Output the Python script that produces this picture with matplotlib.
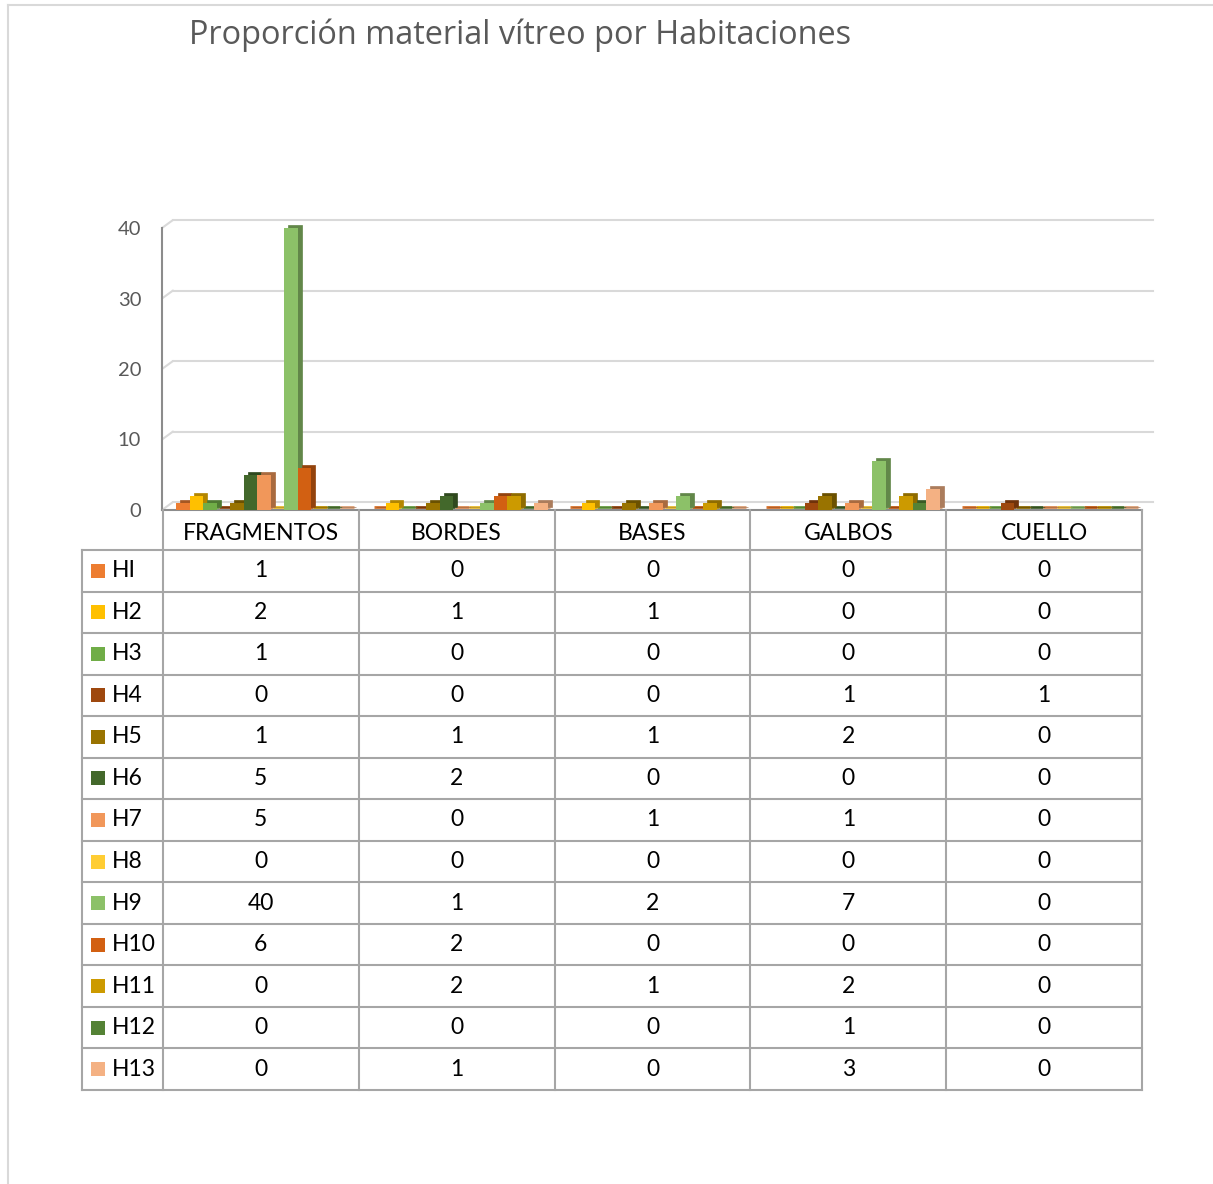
import numpy as np
import matplotlib
matplotlib.use("Agg")
import matplotlib.pyplot as plt
import matplotlib.transforms as mtransforms
from matplotlib.patches import Rectangle, ConnectionPatch
from matplotlib.lines import Line2D

categories = ["FRAGMENTOS", "BORDES", "BASES", "GALBOS", "CUELLO"]
series_names = ["HI", "H2", "H3", "H4", "H5", "H6", "H7", "H8", "H9", "H10", "H11", "H12", "H13"]
values = [
    [1, 0, 0, 0, 0],
    [2, 1, 1, 0, 0],
    [1, 0, 0, 0, 0],
    [0, 0, 0, 1, 1],
    [1, 1, 1, 2, 0],
    [5, 2, 0, 0, 0],
    [5, 0, 1, 1, 0],
    [0, 0, 0, 0, 0],
    [40, 1, 2, 7, 0],
    [6, 2, 0, 0, 0],
    [0, 2, 1, 2, 0],
    [0, 0, 0, 1, 0],
    [0, 1, 0, 3, 0],
]
colors = ["#ED7D31", "#FFC000", "#70AD47", "#9E480E", "#997300", "#43682B", "#F1975A",
          "#FFCD33", "#8CC168", "#D26012", "#CC9A00", "#548235", "#F4B183"]
yticks = [0, 10, 20, 30, 40]

FONT = "Lato"
W, H = 1213, 1184
fig = plt.figure(figsize=(W / 100, H / 100), dpi=100)


def fx(px):
    return px / W


def fy(py):
    return 1 - py / H


def darker(c, f=0.7):
    r, g, b = matplotlib.colors.to_rgb(c)
    return (r * f, g * f, b * f)


# outer frame
fig.add_artist(Line2D([fx(8), 1], [fy(5), fy(5)], color="#D9D9D9", lw=1.5))
fig.add_artist(Line2D([fx(8), fx(8)], [fy(5), 0], color="#D9D9D9", lw=1.5))

fig.text(fx(189), fy(35), "Proporción material vítreo por Habitaciones",
         fontsize=23.4, color="#595959", family="Open Sans", ha="left", va="center")

# chart
ax = fig.add_axes([fx(162), fy(510), (1142 - 162) / W, (510 - 228) / H])
ax.set_xlim(-0.5, 4.5)
ax.set_ylim(0, 40)
ax.set_facecolor("none")
for s in ["top", "right"]:
    ax.spines[s].set_visible(False)
ax.spines["left"].set_color("#8C8C8C")
ax.spines["left"].set_linewidth(1.5)
ax.spines["bottom"].set_color("#8C8C8C")
ax.spines["bottom"].set_linewidth(1.5)
ax.set_xticks([])
ax.set_yticks(yticks)
ax.tick_params(axis="y", length=0, pad=15, labelsize=14.5, labelcolor="#595959")
for lab in ax.get_yticklabels():
    lab.set_family(FONT)

back = mtransforms.offset_copy(ax.transData, fig=fig, x=11, y=8, units="dots")
for v in yticks:
    ax.plot([-0.5, 4.5], [v, v], color="#D9D9D9", lw=1.5, transform=back,
            clip_on=False, zorder=0)
    con = ConnectionPatch(xyA=(-0.5, v), coordsA=ax.transData, xyB=(-0.5, v),
                          coordsB=back, color="#D9D9D9", lw=1.5, zorder=0)
    ax.add_artist(con)

bw = 0.069
side = mtransforms.offset_copy(ax.transData, fig=fig, x=4, y=3, units="dots")
floor = mtransforms.offset_copy(ax.transData, fig=fig, x=2, y=3, units="dots")
x = np.arange(len(categories))
for i, (vals, c) in enumerate(zip(values, colors)):
    xs = x + (i - 6) * bw + 0.02
    ax.bar(xs, [0] * len(xs), bw, color=c, edgecolor=darker(c, 0.9), lw=2,
           transform=floor, zorder=1, clip_on=False)
    ax.bar(xs, vals, bw, color=darker(c), edgecolor=darker(c), lw=0.5,
           transform=side, zorder=2, clip_on=False)
    ax.bar(xs, vals, bw, color=c, lw=0, zorder=3, clip_on=False)

# data table
tax = fig.add_axes([fx(82), fy(1090), (1142 - 82) / W, (1090 - 510) / H])
tax.set_xlim(82, 1142)
tax.set_ylim(1090, 510)
tax.axis("off")
col_x = np.linspace(163, 1142, len(categories) + 1)
row_y = np.linspace(550, 1090, len(series_names) + 1)
lc = "#A6A6A6"
for yy in row_y:
    tax.plot([82, 1142], [yy, yy], color=lc, lw=1.5, clip_on=False)
tax.plot([82, 82], [550, 1090], color=lc, lw=1.5, clip_on=False)
for xx in col_x:
    tax.plot([xx, xx], [510, 1090], color=lc, lw=1.5, clip_on=False)

tfs = 16.5
for j, cat in enumerate(categories):
    cx = (col_x[j] + col_x[j + 1]) / 2
    tax.text(cx, 534, cat, ha="center", va="center", fontsize=tfs, family=FONT)
for i, name in enumerate(series_names):
    cy = (row_y[i] + row_y[i + 1]) / 2
    tax.add_patch(Rectangle((91, cy - 7), 14, 14, color=colors[i], lw=0))
    tax.text(112, cy, name, ha="left", va="center", fontsize=tfs, family=FONT)
    for j in range(len(categories)):
        cx = (col_x[j] + col_x[j + 1]) / 2
        tax.text(cx, cy, str(values[i][j]), ha="center", va="center",
                 fontsize=tfs, family=FONT)

fig.savefig("out.png", dpi=100)
